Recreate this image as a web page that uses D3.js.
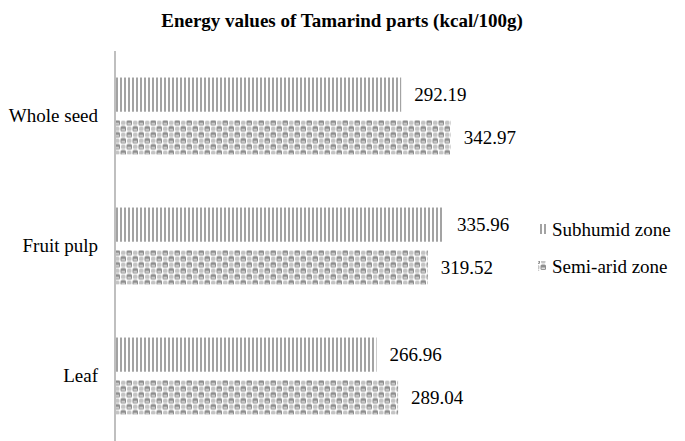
<!DOCTYPE html>
<html><head><meta charset="utf-8">
<script src="https://cdn.jsdelivr.net/npm/d3@7"></script>
<style>body{margin:0;background:#fff}svg{display:block}
svg text{font-family:"Liberation Serif","DejaVu Serif",serif !important;}</style>
</head><body>
<svg id="c" width="685" height="441"></svg>
<script>
const categories = ["Whole seed", "Fruit pulp", "Leaf"];
const series = ["Subhumid zone", "Semi-arid zone"];
const subhumid = [292.19, 335.96, 266.96];
const semiarid = [342.97, 319.52, 289.04];
const title = "Energy values of Tamarind parts (kcal/100g)";

const svg = d3.select("#c");
const defs = svg.append("defs");
const p1 = defs.append("pattern").attr("id","pStripe").attr("patternUnits","userSpaceOnUse")
  .attr("width",4).attr("height",4);
p1.append("rect").attr("width",4).attr("height",4).attr("fill","#fff");
p1.append("rect").attr("x",0).attr("width",2).attr("height",4).attr("fill","#a3a3a3");
const p2 = defs.append("pattern").attr("id","pSphere").attr("patternUnits","userSpaceOnUse")
  .attr("width",12).attr("height",12);
p2.append("rect").attr("width",12).attr("height",12).attr("fill","#fff");
[[0,0],[6,6]].forEach(([ox,oy])=>{
  p2.append("rect").attr("x",ox+0.5).attr("y",oy+0.5).attr("width",5.5).attr("height",5.5)
    .attr("rx",1.5).attr("fill","#8e8e8e");
  p2.append("rect").attr("x",ox+1.5).attr("y",oy+3.5).attr("width",3.5).attr("height",1.6).attr("fill","#dcdcdc");
});
[[6,0],[0,6]].forEach(([ox,oy])=>{
  p2.append("rect").attr("x",ox+1).attr("y",oy+1).attr("width",4.5).attr("height",4.5)
    .attr("rx",1.5).attr("fill","#c4c4c4");
});
const fills = ["url(#pStripe)","url(#pSphere)"];

const x = d3.scaleLinear().domain([0,400]).range([116, 506.4]);
const y = d3.scaleBand().domain(categories).range([51,441]).paddingInner(0.408).paddingOuter(0.204);
const y1 = d3.scaleBand().domain(series).range([0,y.bandwidth()]).paddingInner(0.2);

const data = categories.map((c,i)=>({cat:c, vals:[subhumid[i], semiarid[i]]}));

svg.append("text").attr("x",342).attr("y",27).attr("text-anchor","middle")
  .attr("font-weight","bold").attr("font-size",19).text(title);

const g = svg.selectAll("g.cat").data(data).join("g").attr("transform",d=>`translate(0,${y(d.cat)})`);
g.selectAll("rect").data(d=>d.vals.map((v,j)=>({v,s:series[j],j}))).join("rect")
  .attr("x",x(0)).attr("y",d=>y1(d.s)).attr("width",d=>x(d.v)-x(0)).attr("height",y1.bandwidth())
  .attr("fill",d=>fills[d.j]);
g.selectAll("text.val").data(d=>d.vals.map((v,j)=>({v,s:series[j]}))).join("text").attr("class","val")
  .attr("x",d=>x(d.v)+13).attr("y",d=>y1(d.s)+y1.bandwidth()/2).attr("dy","0.35em")
  .attr("font-size",19).attr("fill","#000").text(d=>d.v.toFixed(2));

const yAxis = d3.axisLeft(y).tickSize(0).tickPadding(17);
const ax = svg.append("g").attr("transform",`translate(${x(0)-1},0)`).call(yAxis);
ax.select(".domain").attr("stroke","#bfbfbf").attr("stroke-width",2).attr("d","M0,51V441");
ax.selectAll("text").attr("font-size",19).attr("fill","#000");

const lg = svg.append("g");
series.forEach((s,i)=>{
  const yy = 229 + i*37;
  lg.append("rect").attr("x",538).attr("y",yy-5).attr("width",8).attr("height",10).attr("fill",fills[i]);
  lg.append("text").attr("x",552).attr("y",yy).attr("dy","0.35em")
    .attr("font-size",19).text(s);
});
</script>
</body></html>
